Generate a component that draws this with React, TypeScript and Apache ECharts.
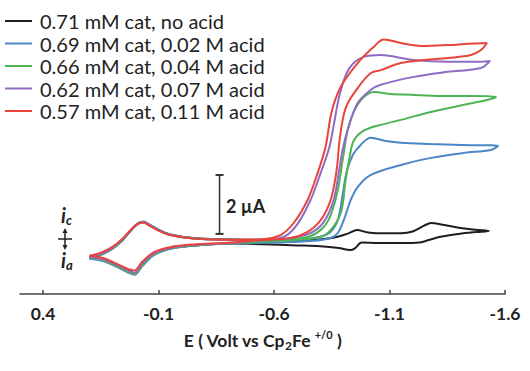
import React, { useEffect, useRef } from "react";
import * as echarts from "echarts";

// Potential E (V vs Cp2Fe+/0), current I (µA, cathodic up)
const seriesNames = [
  "0.71 mM cat, no acid",
  "0.69 mM cat, 0.02 M acid",
  "0.66 mM cat, 0.04 M acid",
  "0.62 mM cat, 0.07 M acid",
  "0.57 mM cat, 0.11 M acid",
];
const seriesColors = ["#1e1e1e", "#4a86c8", "#4db454", "#8e6cc4", "#e8443a"];

const blackCurve: number[][] = [
  [0.20, -0.55], [0.15, -0.45], [0.10, -0.25], [0.06, 0.0], [0.02, 0.35], [-0.01, 0.58], [-0.035, 0.64],
  [-0.06, 0.55], [-0.10, 0.38], [-0.15, 0.22], [-0.25, 0.10], [-0.40, 0.05], [-0.55, 0.03], [-0.75, 0.03],
  [-0.85, 0.10], [-0.92, 0.25], [-0.96, 0.37], [-1.00, 0.30], [-1.05, 0.26], [-1.15, 0.26], [-1.20, 0.32],
  [-1.25, 0.52], [-1.28, 0.61], [-1.33, 0.55], [-1.40, 0.45], [-1.47, 0.38], [-1.53, 0.34],
  [-1.47, 0.30], [-1.40, 0.24], [-1.32, 0.14], [-1.27, 0.03], [-1.23, -0.05], [-1.15, -0.07], [-1.05, -0.07],
  [-0.98, -0.05], [-0.95, -0.25], [-0.93, -0.31], [-0.88, -0.24], [-0.80, -0.18], [-0.70, -0.15],
  [-0.55, -0.11], [-0.40, -0.09], [-0.25, -0.16], [-0.15, -0.25], [-0.08, -0.45], [-0.03, -0.80],
  [0.005, -1.12], [0.03, -1.05], [0.08, -0.85], [0.14, -0.65], [0.20, -0.55],
];

const blueCurve: number[][] = [
  [0.20, -0.60], [0.15, -0.48], [0.10, -0.27], [0.06, 0.0], [0.02, 0.36], [-0.01, 0.60], [-0.035, 0.66],
  [-0.06, 0.56], [-0.10, 0.38], [-0.15, 0.21], [-0.25, 0.09], [-0.40, 0.04], [-0.55, 0.03], [-0.70, 0.04],
  [-0.80, 0.14], [-0.845, 0.31], [-0.876, 0.71], [-0.897, 1.56], [-0.914, 2.34], [-0.941, 2.92],
  [-0.975, 3.26], [-1.019, 3.50], [-1.084, 3.39], [-1.149, 3.33], [-1.279, 3.29], [-1.409, 3.26], [-1.570, 3.22],
  [-1.539, 3.09], [-1.422, 2.99], [-1.279, 2.82], [-1.149, 2.58], [-1.019, 2.24], [-0.962, 1.83],
  [-0.932, 1.39], [-0.902, 0.71], [-0.876, 0.27], [-0.845, 0.10], [-0.76, 0.0], [-0.60, -0.05],
  [-0.40, -0.09], [-0.25, -0.16], [-0.15, -0.27], [-0.08, -0.48], [-0.03, -0.85], [0.005, -1.15],
  [0.03, -1.08], [0.08, -0.88], [0.14, -0.68], [0.20, -0.60],
];

const greenCurve: number[][] = [
  [0.20, -0.58], [0.15, -0.46], [0.10, -0.26], [0.06, 0.0], [0.02, 0.36], [-0.01, 0.59], [-0.035, 0.65],
  [-0.06, 0.55], [-0.10, 0.37], [-0.15, 0.21], [-0.25, 0.09], [-0.40, 0.04], [-0.55, 0.04], [-0.68, 0.06],
  [-0.758, 0.17], [-0.811, 0.44], [-0.845, 0.88], [-0.876, 1.73], [-0.897, 2.75], [-0.919, 3.77],
  [-0.945, 4.38], [-0.984, 4.85], [-1.032, 5.06], [-1.105, 4.99], [-1.192, 4.96], [-1.322, 4.92],
  [-1.453, 4.92], [-1.561, 4.89],
  [-1.526, 4.79], [-1.422, 4.62], [-1.279, 4.38], [-1.149, 4.11], [-1.062, 3.94], [-0.990, 3.75],
  [-0.945, 3.40], [-0.925, 2.75], [-0.910, 2.07], [-0.889, 0.95], [-0.845, 0.37], [-0.802, 0.14],
  [-0.715, 0.05], [-0.55, -0.03], [-0.40, -0.08], [-0.25, -0.15], [-0.15, -0.26], [-0.08, -0.46],
  [-0.03, -0.83], [0.005, -1.13], [0.03, -1.06], [0.08, -0.86], [0.14, -0.66], [0.20, -0.58],
];

const purpleCurve: number[][] = [
  [0.20, -0.55], [0.15, -0.44], [0.10, -0.24], [0.06, 0.02], [0.02, 0.37], [-0.01, 0.59], [-0.035, 0.64],
  [-0.06, 0.54], [-0.10, 0.36], [-0.15, 0.20], [-0.25, 0.08], [-0.40, 0.04], [-0.52, 0.04], [-0.585, 0.05],
  [-0.65, 0.17], [-0.702, 0.58], [-0.758, 1.39], [-0.802, 2.31], [-0.840, 3.20], [-0.860, 4.00],
  [-0.885, 5.00], [-0.925, 5.85], [-0.988, 6.25], [-1.062, 6.31], [-1.205, 6.14], [-1.353, 6.08],
  [-1.466, 6.08], [-1.535, 6.11],
  [-1.496, 5.87], [-1.353, 5.74], [-1.205, 5.57], [-1.062, 5.30], [-1.019, 5.13], [-0.962, 4.68],
  [-0.919, 3.77], [-0.897, 3.09], [-0.880, 2.31], [-0.858, 1.39], [-0.815, 0.64], [-0.758, 0.27],
  [-0.672, 0.10], [-0.541, 0.02], [-0.40, -0.07], [-0.25, -0.14], [-0.15, -0.24], [-0.08, -0.43],
  [-0.03, -0.77], [0.005, -1.08], [0.03, -1.01], [0.08, -0.82], [0.14, -0.63], [0.20, -0.55],
];

const redCurve: number[][] = [
  [0.20, -0.50], [0.15, -0.40], [0.10, -0.20], [0.06, 0.05], [0.02, 0.38], [-0.01, 0.58], [-0.035, 0.62],
  [-0.06, 0.52], [-0.10, 0.35], [-0.15, 0.20], [-0.25, 0.08], [-0.40, 0.04], [-0.50, 0.05], [-0.56, 0.07],
  [-0.628, 0.20], [-0.685, 0.61], [-0.745, 1.39], [-0.789, 2.31], [-0.823, 3.20], [-0.850, 4.40],
  [-0.890, 5.25], [-0.962, 6.04], [-1.032, 6.59], [-1.075, 6.84], [-1.149, 6.72], [-1.249, 6.62],
  [-1.353, 6.65], [-1.44, 6.69], [-1.522, 6.72],
  [-1.496, 6.48], [-1.453, 6.31], [-1.353, 6.21], [-1.249, 6.14], [-1.149, 6.04], [-1.062, 5.80],
  [-1.019, 5.70], [-0.962, 5.19], [-0.910, 4.51], [-0.884, 3.43], [-0.871, 2.41], [-0.845, 1.39],
  [-0.802, 0.71], [-0.745, 0.31], [-0.672, 0.10], [-0.541, 0.03], [-0.40, -0.06], [-0.25, -0.12],
  [-0.15, -0.21], [-0.08, -0.38], [-0.03, -0.70], [0.005, -1.00], [0.03, -0.96], [0.08, -0.78],
  [0.14, -0.58], [0.20, -0.50],
];

const curves = [blackCurve, blueCurve, greenCurve, purpleCurve, redCurve];

const xTicks = [0.4, -0.1, -0.6, -1.1, -1.6];
const scaleBar: number[][] = [[-0.364, 0.24], [-0.364, 2.24]];
const scaleBarLabel = "2 \u00b5A";

const FONT = "Lato, 'Open Sans', sans-serif";

export default function App() {
  const ref = useRef<HTMLDivElement>(null);
  useEffect(() => {
    document.body.style.margin = "0";
    const chart = echarts.init(ref.current!, null, { renderer: "svg" });
    const ink = "#222";
    const subRich = {
      i: { fontFamily: FONT, fontSize: 20, fontStyle: "italic", fontWeight: "bold", fill: ink, lineHeight: 22 },
      c: { fontFamily: FONT, fontSize: 13, fontStyle: "italic", fontWeight: "bold", fill: ink, lineHeight: 13, verticalAlign: "bottom" },
    };
    chart.setOption({
      animation: false,
      backgroundColor: "#ffffff",
      grid: { left: 20, right: 25, top: 20, bottom: 77 },
      legend: {
        data: seriesNames,
        orient: "vertical",
        left: 5,
        top: 11,
        padding: 0,
        icon: "rect",
        itemWidth: 27,
        itemHeight: 2,
        itemGap: 2.5,
        textStyle: { fontFamily: FONT, fontSize: 20, color: ink, lineHeight: 19, padding: [0, 0, 0, 3] },
      },
      xAxis: {
        type: "value",
        min: -1.6,
        max: 0.5,
        inverse: true,
        splitLine: { show: false },
        axisLine: { show: true, onZero: false, lineStyle: { color: "#444", width: 1.5 } },
        axisTick: { show: true, inside: true, length: 4, customValues: xTicks, lineStyle: { color: "#444", width: 1.5 } },
        axisLabel: {
          customValues: xTicks,
          formatter: (v: number) => v.toFixed(1),
          margin: 10,
          fontFamily: FONT,
          fontSize: 17.5,
          fontWeight: "bold",
          color: ink,
        },
        name: "{a|E ( Volt vs Cp}{s|2}{a|Fe }{p|+/0}{a| )}",
        nameLocation: "middle",
        nameGap: 35,
        nameTextStyle: {
          rich: {
            a: { fontFamily: FONT, fontSize: 17.5, fontWeight: "bold", color: ink, lineHeight: 22 },
            s: { fontFamily: FONT, fontSize: 12, fontWeight: "bold", color: ink, lineHeight: 12, verticalAlign: "bottom" },
            p: { fontFamily: FONT, fontSize: 11, fontWeight: "bold", color: ink, lineHeight: 11, verticalAlign: "top" },
          },
        },
      },
      yAxis: { type: "value", min: -1.8, max: 7.5, show: false },
      series: [
        ...curves.map((d, i) => ({
          name: seriesNames[i],
          type: "line",
          data: d,
          symbol: "none",
          smooth: 0.35,
          color: seriesColors[i],
          lineStyle: { width: 2, color: seriesColors[i] },
          z: 2 + i,
        })),
        {
          name: "scale",
          type: "line",
          data: scaleBar,
          symbol: "rect",
          symbolSize: [8, 2],
          itemStyle: { color: "#333" },
          lineStyle: { color: "#333", width: 1.5 },
          silent: true,
        },
      ],
      graphic: [
        {
          type: "text",
          left: 226,
          top: 197,
          style: { text: scaleBarLabel, fontFamily: FONT, fontSize: 18, fontWeight: "bold", fill: ink },
        },
        { type: "text", left: 61, top: 205, style: { text: "{i|i}{c|c}", rich: subRich } },
        { type: "text", left: 61, top: 250, style: { text: "{i|i}{c|a}", rich: subRich } },
        { type: "line", shape: { x1: 65, y1: 231, x2: 65, y2: 247 }, style: { stroke: ink, lineWidth: 1.5 } },
        { type: "line", shape: { x1: 58, y1: 239, x2: 72, y2: 239 }, style: { stroke: ink, lineWidth: 1.5 } },
        { type: "polygon", shape: { points: [[65, 228], [62.5, 233], [67.5, 233]] }, style: { fill: ink } },
        { type: "polygon", shape: { points: [[65, 250], [62.5, 245], [67.5, 245]] }, style: { fill: ink } },
      ],
    });
    return () => chart.dispose();
  }, []);
  return <div ref={ref} style={{ width: 530, height: 371 }} />;
}
